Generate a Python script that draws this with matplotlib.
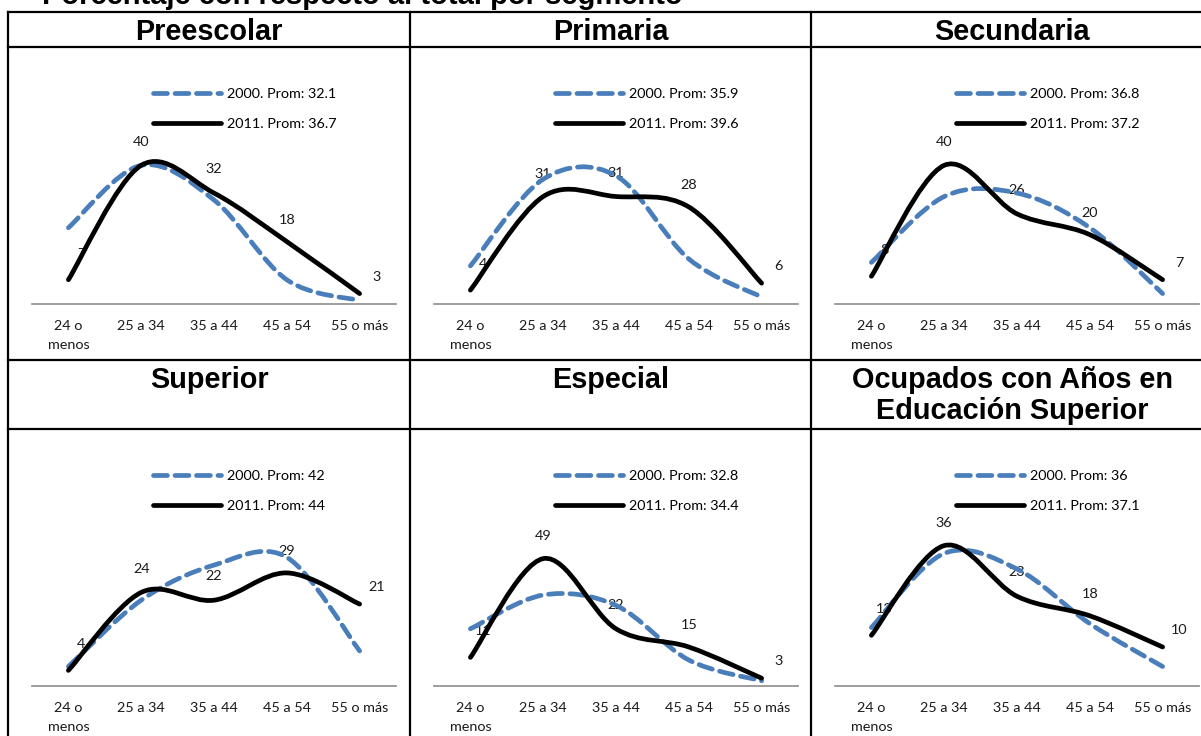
import matplotlib
matplotlib.use("Agg")
import matplotlib.pyplot as plt
from matplotlib.path import Path
from matplotlib.patches import PathPatch
from matplotlib.lines import Line2D

# data (percent of each segment by age group)
age_groups = ["24 o\nmenos", "25 a 34", "35 a 44", "45 a 54", "55 o más"]
panel_titles = ["Preescolar", "Primaria", "Secundaria",
                "Superior", "Especial", "Ocupados con Años en\nEducación Superior"]

preescolar_2000 = [22, 40, 30, 7, 1]
preescolar_2011 = [7, 40, 32, 18, 3]
primaria_2000 = [11, 36, 37, 13, 2]
primaria_2011 = [4, 31, 31, 28, 6]
secundaria_2000 = [12, 31, 32, 22, 3]
secundaria_2011 = [8, 40, 26, 20, 7]
superior_2000 = [5, 22, 31, 33, 9]
superior_2011 = [4, 24, 22, 29, 21]
especial_2000 = [22, 35, 31, 10, 2]
especial_2011 = [11, 49, 22, 15, 3]
ocupados_2000 = [15, 34, 30, 16, 5]
ocupados_2011 = [13, 36, 23, 18, 10]

prom_2000 = ["32.1", "35.9", "36.8", "42", "32.8", "36"]
prom_2011 = ["36.7", "39.6", "37.2", "44", "34.4", "37.1"]
y_max = [45, 45, 45, 40, 60, 40]

series_2000 = [preescolar_2000, primaria_2000, secundaria_2000,
               superior_2000, especial_2000, ocupados_2000]
series_2011 = [preescolar_2011, primaria_2011, secundaria_2011,
               superior_2011, especial_2011, ocupados_2011]

W, H = 1201, 736
BLUE = "#4a7ebb"
TICK_FONT = "Lato"
TITLE_FONT = "Liberation Sans"
FS = 10.4
LW = 3.4
DASH = (0, (2.95, 1.6))


def fx(x):
    return x / W


def fy(y):
    return 1 - y / H


def smooth_path(ys):
    # excel style smoothed line: cubic bezier through the points
    xs = list(range(len(ys)))
    verts = [(xs[0], ys[0])]
    codes = [Path.MOVETO]
    n = len(ys)
    for i in range(n - 1):
        p0 = i - 1 if i > 0 else i
        p3 = i + 2 if i + 2 < n else i + 1
        c1 = (xs[i] + (xs[i + 1] - xs[p0]) / 6, ys[i] + (ys[i + 1] - ys[p0]) / 6)
        c2 = (xs[i + 1] - (xs[p3] - xs[i]) / 6, ys[i + 1] - (ys[p3] - ys[i]) / 6)
        verts += [c1, c2, (xs[i + 1], ys[i + 1])]
        codes += [Path.CURVE4, Path.CURVE4, Path.CURVE4]
    return Path(verts, codes)


fig = plt.figure(figsize=(W / 100, H / 100), dpi=100)

# title, cut off at the top like the reference
fig.text(fx(42), fy(4), "Porcentaje con respecto al total por segmento",
         fontsize=21, fontweight="bold", family=TITLE_FONT,
         ha="left", va="baseline")

# table grid
col_x = [8, 410, 811, 1213]
row_y = [12, 47, 360, 429, 760]
for y in row_y:
    fig.add_artist(Line2D([fx(col_x[0]), fx(col_x[-1])], [fy(y), fy(y)],
                          color="black", lw=1.6))
for x in col_x:
    fig.add_artist(Line2D([fx(x), fx(x)], [fy(row_y[0]), fy(row_y[-1])],
                          color="black", lw=1.6))

title_base = [40, 388]
axis_base = [304, 686]
label_offsets = [(13, 26), (0, 23), (0, 24), (0, 22), (17, 17)]

for k in range(6):
    r, c = divmod(k, 3)
    left = col_x[c] + 24
    base = axis_base[r]
    ax = fig.add_axes([fx(left), fy(base), 364 / W, 156 / H])

    # panel title, one text per line
    cx = (col_x[c] + col_x[c + 1]) / 2
    for j, line in enumerate(panel_titles[k].split("\n")):
        fig.text(fx(cx), fy(title_base[r] + 31 * j), line, fontsize=20.8,
                 fontweight="bold", family=TITLE_FONT, ha="center",
                 va="baseline")

    p2000 = PathPatch(smooth_path(series_2000[k]), fill=False, edgecolor=BLUE,
                      lw=LW, linestyle=DASH, zorder=3)
    p2000.set_capstyle("round")
    ax.add_patch(p2000)
    p2011 = PathPatch(smooth_path(series_2011[k]), fill=False,
                      edgecolor="black", lw=LW, zorder=4)
    p2011.set_capstyle("round")
    p2011.set_joinstyle("round")
    ax.add_patch(p2011)

    for i, v in enumerate(series_2011[k]):
        dx, dy = label_offsets[i]
        ax.annotate(str(v), (i, v), xytext=(dx, dy), textcoords="offset pixels",
                    ha="center", va="center", fontsize=FS, family=TICK_FONT,
                    color="#1a1a1a", zorder=2)

    ax.set_xlim(-0.5, 4.5)
    ax.set_ylim(0, y_max[k])
    ax.set_xticks(range(5))
    ax.set_xticklabels(age_groups, fontsize=FS, family=TICK_FONT,
                       color="#1a1a1a")
    for t in ax.get_xticklabels():
        t.set_linespacing(1.75)
    ax.tick_params(axis="x", length=0, pad=11.5)
    ax.set_yticks([])
    for s in ["top", "left", "right"]:
        ax.spines[s].set_visible(False)
    ax.spines["bottom"].set_color("#8c8c8c")
    ax.spines["bottom"].set_linewidth(1.2)
    ax.patch.set_alpha(0)

    handles = [
        Line2D([], [], color=BLUE, lw=LW, linestyle=DASH,
               dash_capstyle="round"),
        Line2D([], [], color="black", lw=LW, solid_capstyle="round"),
    ]
    labels = ["2000. Prom: " + prom_2000[k], "2011. Prom: " + prom_2011[k]]
    leg_x = (col_x[c] + 145 - left) / 364
    ax.legend(handles, labels, loc="upper left",
              bbox_to_anchor=(leg_x, 1 + 60 / 156), frameon=False,
              prop={"family": TICK_FONT, "size": FS},
              handlelength=4.7, handletextpad=0.45, labelspacing=1.2,
              borderpad=0, borderaxespad=0)

fig.savefig("out.png", dpi=100)
